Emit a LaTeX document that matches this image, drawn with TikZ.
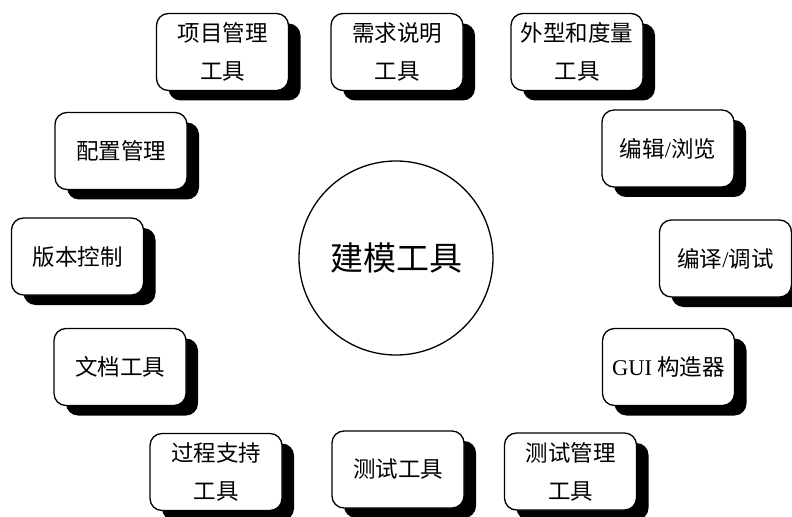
\documentclass[tikz,border=0pt]{standalone}
\usepackage{fontspec}
\setmainfont{Liberation Serif}
\newfontfamily\cjk{Noto Sans CJK SC}
\usetikzlibrary{shadows}
\tikzset{
  toolbox/.style={draw, line width=1.3bp, rounded corners=12bp, fill=white,
    minimum width=132bp, minimum height=77bp, align=center, inner sep=0pt,
    font=\fontsize{22.5bp}{38bp}\selectfont\cjk,
    drop shadow={shadow xshift=12bp, shadow yshift=-10bp, fill=black, opacity=1}},
  hub/.style={draw, circle, line width=1.3bp, minimum size=194bp, inner sep=0pt,
    font=\fontsize{33bp}{40bp}\selectfont\cjk}
}
\begin{document}
\begin{tikzpicture}[x=1bp, y=-1bp]
\useasboundingbox (0,0) rectangle (792,517);
\node[hub] (core) at (396,258) {建模工具};
\node[toolbox] (pm)   at (222.5,52)  {项目管理\\工具};
\node[toolbox] (req)  at (397,52)    {需求说明\\工具};
\node[toolbox] (shape) at (577,52)   {外型和度量\\工具};
\node[toolbox] (edit) at (668,148.5) {编辑{\rmfamily /}浏览};
\node[toolbox] (comp) at (725.5,258.5) {编译{\rmfamily /}调试};
\node[toolbox] (gui)  at (668.5,367) {{\rmfamily GUI} 构造器};
\node[toolbox] (tm)   at (570.5,471.5) {测试管理\\工具};
\node[toolbox] (test) at (398,469.5) {测试工具};
\node[toolbox] (proc) at (216,472)   {过程支持\\工具};
\node[toolbox] (doc)  at (120,367)   {文档工具};
\node[toolbox] (ver)  at (77.5,256.5) {版本控制};
\node[toolbox] (cfg)  at (121,151)   {配置管理};
\end{tikzpicture}
\end{document}
